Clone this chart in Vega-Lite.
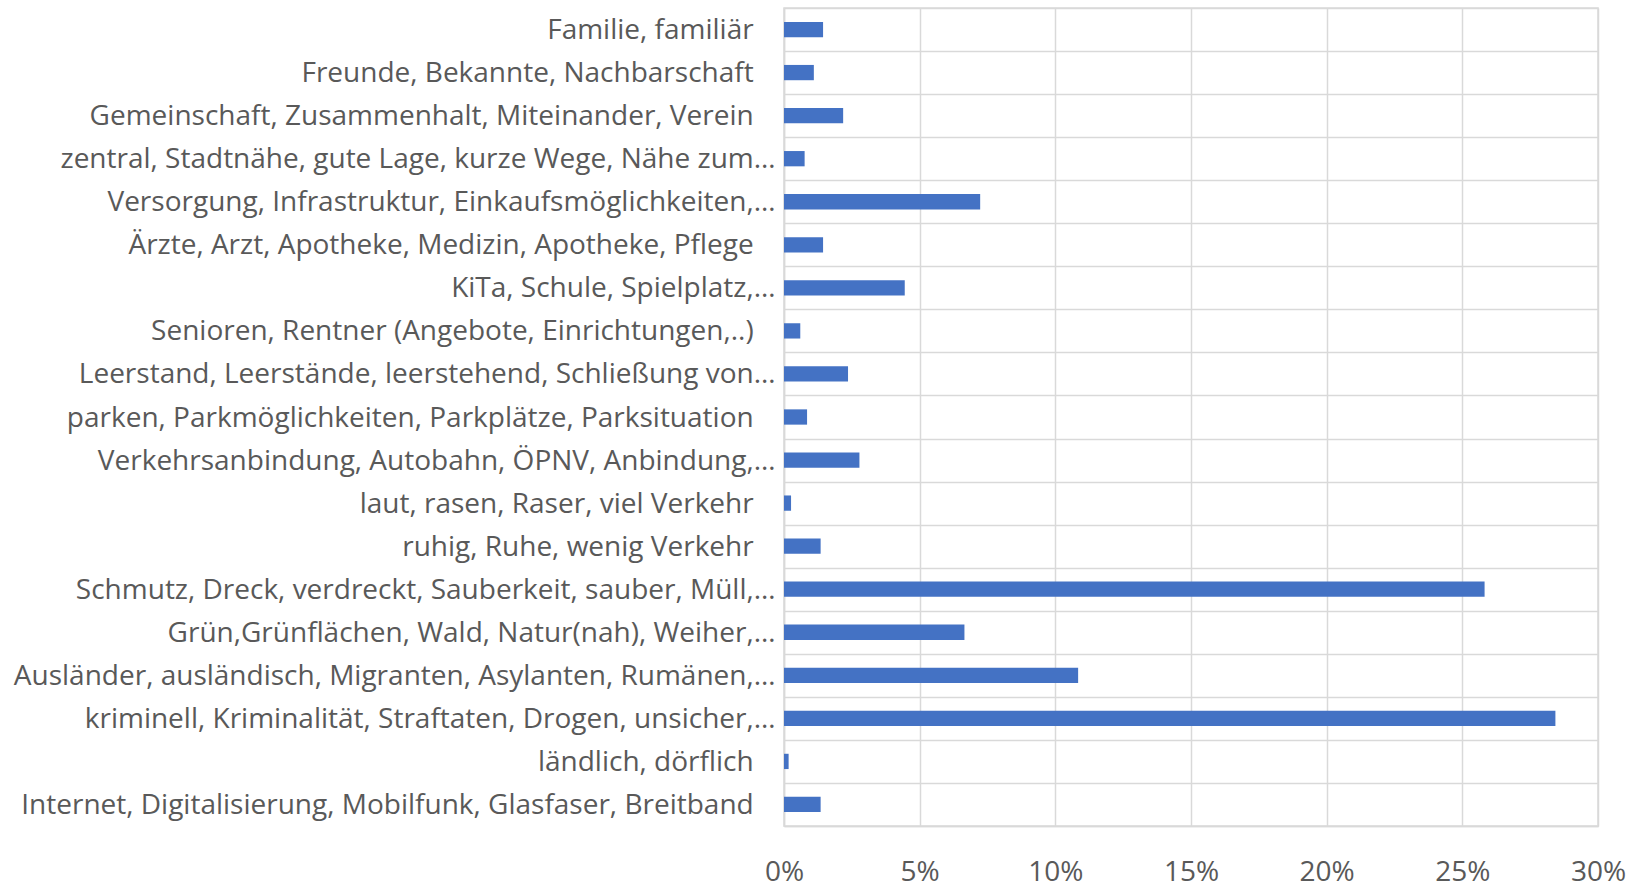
{
  "$schema": "https://vega.github.io/schema/vega-lite/v6.json",
  "autosize": "none",
  "width": 814,
  "height": 818,
  "padding": {"left": 784, "top": 8, "right": 48, "bottom": 62},
  "background": "white",
  "config": {
    "view": {"stroke": "#d9d9d9", "strokeWidth": 1.5},
    "font": "Open Sans"
  },
  "data": {
    "values": [
      {"kategorie": "Familie, familiär", "anteil": 0.0144},
      {"kategorie": "Freunde, Bekannte, Nachbarschaft", "anteil": 0.0110},
      {"kategorie": "Gemeinschaft, Zusammenhalt, Miteinander, Verein", "anteil": 0.0218},
      {"kategorie": "zentral, Stadtnähe, gute Lage, kurze Wege, Nähe zum…", "anteil": 0.0076},
      {"kategorie": "Versorgung, Infrastruktur, Einkaufsmöglichkeiten,…", "anteil": 0.0723},
      {"kategorie": "Ärzte, Arzt, Apotheke, Medizin, Apotheke, Pflege", "anteil": 0.0144},
      {"kategorie": "KiTa, Schule, Spielplatz,…", "anteil": 0.0445},
      {"kategorie": "Senioren, Rentner (Angebote, Einrichtungen,..)", "anteil": 0.0060},
      {"kategorie": "Leerstand, Leerstände, leerstehend, Schließung von…", "anteil": 0.0236},
      {"kategorie": "parken, Parkmöglichkeiten, Parkplätze, Parksituation", "anteil": 0.0085},
      {"kategorie": "Verkehrsanbindung, Autobahn, ÖPNV, Anbindung,…", "anteil": 0.0278},
      {"kategorie": "laut, rasen, Raser, viel Verkehr", "anteil": 0.0026},
      {"kategorie": "ruhig, Ruhe, wenig Verkehr", "anteil": 0.0135},
      {"kategorie": "Schmutz, Dreck, verdreckt, Sauberkeit, sauber, Müll,…", "anteil": 0.2582},
      {"kategorie": "Grün,Grünflächen, Wald, Natur(nah), Weiher,…", "anteil": 0.0665},
      {"kategorie": "Ausländer, ausländisch, Migranten, Asylanten, Rumänen,…", "anteil": 0.1084},
      {"kategorie": "kriminell, Kriminalität, Straftaten, Drogen, unsicher,…", "anteil": 0.2843},
      {"kategorie": "ländlich, dörflich", "anteil": 0.0017},
      {"kategorie": "Internet, Digitalisierung, Mobilfunk, Glasfaser, Breitband", "anteil": 0.0135}
    ]
  },
  "mark": {"type": "bar", "color": "#4472C4", "height": {"band": 0.355}},
  "encoding": {
    "y": {
      "field": "kategorie",
      "type": "nominal",
      "sort": null,
      "scale": {"paddingInner": 0, "paddingOuter": 0},
      "axis": {
        "title": null,
        "tickBand": "extent",
        "ticks": false,
        "grid": true,
        "gridColor": "#d9d9d9",
        "gridWidth": 1.5,
        "domainColor": "#d9d9d9",
        "domainWidth": 1.5,
        "labelFontSize": 28,
        "labelColor": "#595959",
        "labelPadding": 9,
        "labelLimit": 0,
        "labelOffset": 1,
        "labelExpr": "indexof(datum.label, '…') >= 0 ? datum.label : datum.label + '\u00a0\u00a0\u00a0\u200b'"
      }
    },
    "x": {
      "field": "anteil",
      "type": "quantitative",
      "scale": {"domain": [0, 0.3], "nice": false},
      "axis": {
        "title": null,
        "values": [0, 0.05, 0.1, 0.15, 0.2, 0.25, 0.3],
        "format": ".0%",
        "ticks": false,
        "grid": true,
        "gridColor": "#d9d9d9",
        "gridWidth": 1.5,
        "domainColor": "#d9d9d9",
        "domainWidth": 1.5,
        "labelFontSize": 28,
        "labelColor": "#595959",
        "labelPadding": 32,
        "labelFlush": false
      }
    }
  }
}
